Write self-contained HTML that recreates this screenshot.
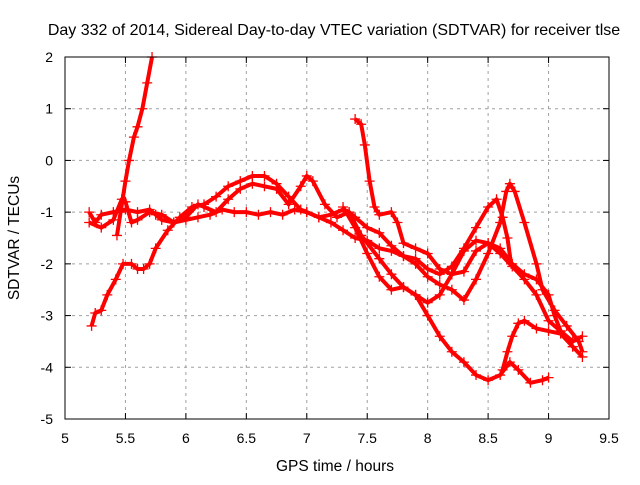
<!DOCTYPE html>
<html><head><meta charset="utf-8"><style>
body{margin:0;background:#fff}
svg text{font-family:"Liberation Sans",sans-serif;font-size:14px;fill:#000}
</style></head><body>
<svg id="c" width="640" height="480">
<rect width="640" height="480" fill="#fff"/>
<text x="334" y="35" text-anchor="middle" style="font-size:16px">Day 332 of 2014, Sidereal Day-to-day VTEC variation (SDTVAR) for receiver tlse</text>
<g id="grid"></g><g id="ticks"></g><g id="data"></g>
<rect x="65" y="57" width="544" height="362" fill="none" stroke="#000" stroke-width="1"/>
<text x="335" y="471" text-anchor="middle" style="font-size:15.5px">GPS time / hours</text>
<text transform="translate(19,238) rotate(-90)" text-anchor="middle" style="font-size:15.5px">SDTVAR / TECUs</text>
</svg>
<script>
const xTicks=[5,5.5,6,6.5,7,7.5,8,8.5,9,9.5];
const yTicks=[2,1,0,-1,-2,-3,-4,-5];
const sA=[[5.43,-1.45],[5.46,-1.0],[5.5,-0.4],[5.53,0.0],[5.57,0.45],[5.6,0.65],[5.64,1.0],[5.68,1.5],[5.72,2.0]];
const sB=[[5.22,-3.2],[5.25,-2.95],[5.3,-2.9],[5.35,-2.6],[5.42,-2.3],[5.48,-2.0],[5.55,-2.0],[5.6,-2.1],[5.65,-2.1],[5.7,-2.0],[5.75,-1.7],[5.85,-1.35],[5.95,-1.1],[6.05,-0.9],[6.15,-0.85],[6.25,-0.7],[6.35,-0.5],[6.45,-0.4],[6.55,-0.3],[6.65,-0.3],[6.75,-0.45],[6.85,-0.7],[6.95,-0.95],[7.0,-1.0],[7.1,-1.1],[7.2,-1.05],[7.3,-0.95],[7.35,-1.0],[7.45,-1.45],[7.6,-1.9],[7.7,-2.2],[7.8,-2.45],[7.9,-2.6],[8.0,-2.75],[8.1,-2.6],[8.2,-2.2],[8.3,-1.75],[8.4,-1.55],[8.5,-1.6],[8.6,-1.8],[8.7,-2.05],[8.8,-2.3],[8.9,-2.6],[9.0,-3.1],[9.1,-3.3],[9.2,-3.6],[9.28,-3.8]];
const sC=[[5.2,-1.0],[5.25,-1.2],[5.3,-1.05],[5.4,-1.0],[5.5,-0.95],[5.6,-1.0],[5.7,-0.95],[5.75,-1.05],[5.8,-1.15],[5.9,-1.2],[6.0,-1.15],[6.1,-1.1],[6.2,-1.05],[6.3,-0.95],[6.4,-1.0],[6.5,-1.0],[6.6,-1.05],[6.7,-1.0],[6.8,-1.05],[6.9,-0.95],[7.0,-1.0],[7.1,-1.1],[7.2,-1.2],[7.3,-1.35],[7.4,-1.5],[7.5,-1.55],[7.6,-1.7],[7.7,-1.75],[7.8,-1.85],[7.9,-1.9],[8.0,-2.1],[8.1,-2.2],[8.2,-2.05],[8.3,-1.7],[8.4,-1.3],[8.5,-0.9],[8.57,-0.75],[8.62,-1.1],[8.66,-1.5],[8.69,-2.0]];
const sD=[[5.2,-1.2],[5.3,-1.3],[5.4,-1.15],[5.47,-0.75],[5.5,-0.8],[5.55,-1.2],[5.6,-1.15],[5.7,-1.0],[5.8,-1.05],[5.9,-1.2],[6.0,-1.1],[6.1,-0.85],[6.15,-0.9],[6.25,-1.0],[6.35,-0.75],[6.45,-0.55],[6.55,-0.45],[6.65,-0.5],[6.75,-0.55],[6.85,-0.85],[6.95,-0.5],[7.0,-0.3],[7.05,-0.4],[7.15,-0.85],[7.25,-1.1],[7.35,-1.0],[7.4,-1.1],[7.5,-1.3],[7.6,-1.4],[7.7,-1.65],[7.8,-1.85],[7.9,-2.0],[8.0,-2.25],[8.1,-2.4],[8.2,-2.5],[8.3,-2.7],[8.4,-2.3],[8.5,-1.8],[8.6,-1.2],[8.65,-0.6],[8.68,-0.45],[8.72,-0.6],[8.8,-1.2],[8.9,-2.0],[8.95,-2.5],[9.05,-2.9],[9.15,-3.2],[9.25,-3.5],[9.28,-3.7]];
const sE=[[7.4,0.8],[7.45,0.7],[7.48,0.3],[7.52,-0.4],[7.56,-0.9],[7.6,-1.05],[7.7,-1.0],[7.75,-1.2],[7.8,-1.6],[7.9,-1.7],[8.0,-1.8],[8.1,-2.1],[8.2,-2.2],[8.3,-2.15],[8.4,-1.75],[8.5,-1.6],[8.6,-1.7],[8.7,-2.0],[8.8,-2.2],[8.9,-2.3],[9.0,-2.6],[9.05,-3.0],[9.1,-3.3],[9.2,-3.5],[9.28,-3.4]];
const sF=[[7.3,-0.9],[7.4,-1.3],[7.5,-1.8],[7.6,-2.25],[7.7,-2.5],[7.8,-2.45],[7.9,-2.6],[8.0,-3.0],[8.1,-3.4],[8.2,-3.7],[8.3,-3.9],[8.4,-4.15],[8.5,-4.25],[8.6,-4.15],[8.68,-3.9],[8.75,-4.05],[8.85,-4.3],[8.95,-4.25],[9.0,-4.2]];
const sG=[[8.62,-4.05],[8.66,-3.7],[8.7,-3.4],[8.75,-3.15],[8.8,-3.1],[8.9,-3.25],[9.0,-3.3],[9.1,-3.35],[9.2,-3.6]];
const series=[sA,sB,sC,sD,sE,sF,sG];
const NS="http://www.w3.org/2000/svg";
const X0=65,X1=609,Y0=419,Y1=57;
function xs(t){return X0+(t-5)/(9.5-5)*(X1-X0);}
function ys(v){return Y0-(v+5)/7*(Y0-Y1);}
function mk(tag,attrs,parent){const e=document.createElementNS(NS,tag);for(const k in attrs)e.setAttribute(k,attrs[k]);parent.appendChild(e);return e;}
const grid=document.getElementById('grid'),ticks=document.getElementById('ticks'),data=document.getElementById('data');
xTicks.forEach(t=>{const x=xs(t);
 if(t>5&&t<9.5){const g=mk('line',{x1:x,x2:x,y1:Y1,y2:Y0,stroke:'#a0a0a0','stroke-dasharray':'3,4'},grid);
 
 }
 mk('line',{x1:x,x2:x,y1:Y0,y2:Y0-6,stroke:'#000'},ticks);mk('line',{x1:x,x2:x,y1:Y1,y2:Y1+6,stroke:'#000'},ticks);
 const l=mk('text',{x:x,y:Y0+24,'text-anchor':'middle'},ticks);l.textContent=String(t);
 
 });
yTicks.forEach(v=>{const y=ys(v);
 if(v<2&&v>-5){const g=mk('line',{x1:X0,x2:X1,y1:y,y2:y,stroke:'#a0a0a0','stroke-dasharray':'3,4'},grid);
 
 }
 mk('line',{x1:X0,x2:X0+6,y1:y,y2:y,stroke:'#000'},ticks);mk('line',{x1:X1,x2:X1-6,y1:y,y2:y,stroke:'#000'},ticks);
 const l=mk('text',{x:X0-12,y:y+5,'text-anchor':'end'},ticks);l.textContent=String(v);
 
 });
series.forEach((s,i)=>{const g=mk('g',{},data);
 
 
 mk('polyline',{points:s.map(p=>xs(p[0])+','+ys(p[1])).join(' '),fill:'none',stroke:'#f00','stroke-width':4,'stroke-linejoin':'round'},g);
 let d='';s.forEach(p=>{const x=xs(p[0]),y=ys(p[1]);d+=`M${x-5},${y}h10M${x},${y-5}v10`;});
 const m=mk('path',{d:d,stroke:'#f00','stroke-width':1.3,fill:'none'},g);
 
 });
</script>
</body></html>
